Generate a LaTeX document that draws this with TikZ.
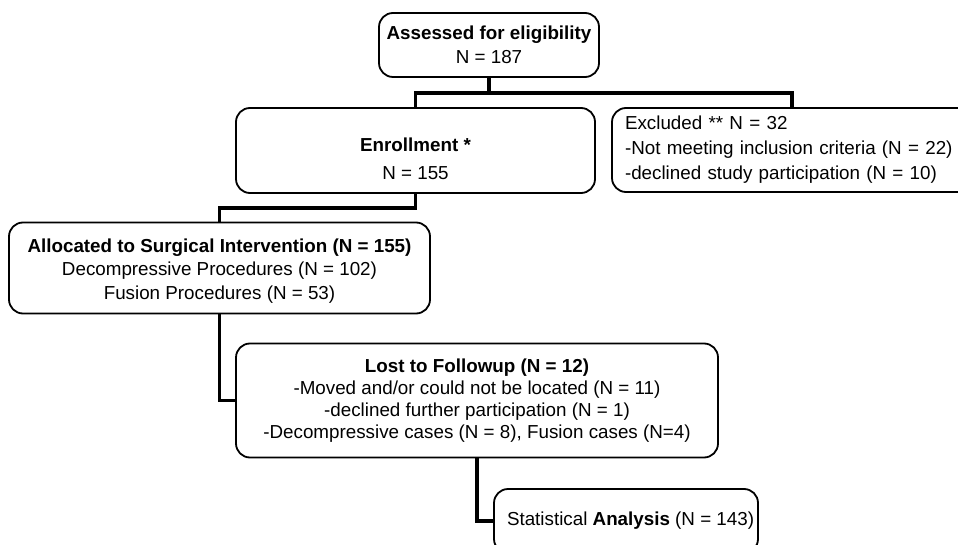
\documentclass[tikz,border=0pt]{standalone}
\usepackage{fontspec}
\setmainfont{Liberation Sans}
\begin{document}
\begin{tikzpicture}[x=1pt,y=-1pt,
  box/.style={draw, line width=1.8pt, rounded corners=14pt, fill=white, align=center, inner sep=0pt, font=\fontsize{18.8}{23.5}\selectfont},
  leftbox/.style={box, align=left, inner xsep=13pt},
  conn/.style={line width=3.8pt}]
\useasboundingbox (0,0) rectangle (958,545);
\clip (0,0) rectangle (958,545);
\fill[white] (0,0) rectangle (958,545);
\node[box, minimum width=220pt, minimum height=64pt] (assess) at (489,45) {\textbf{Assessed for eligibility}\\N = 187};
\node[box, minimum width=359pt, minimum height=85pt] (enroll) at (415.5,150.5) {\rule{0pt}{30pt}\textbf{Enrollment *}\\[4pt]N = 155};
\node[leftbox, minimum width=360pt, text width=334pt, minimum height=84pt, font=\fontsize{18.8}{25}\selectfont] (excl) at (792,150) {Excluded ** N = 32\\-Not meeting inclusion criteria (N = 22)\\-declined study participation (N = 10)};
\node[box, minimum width=421pt, minimum height=91pt] (alloc) at (219.5,268) {\rule{0pt}{19pt}\textbf{Allocated to Surgical Intervention (N = 155)}\\Decompressive Procedures (N = 102)\\Fusion Procedures (N = 53)};
\node[box, minimum width=482pt, minimum height=114pt, font=\fontsize{18.8}{21.8}\selectfont] (lost) at (477,400.5) {\textbf{Lost to Followup (N = 12)}\\-Moved and/or could not be located (N = 11)\\-declined further participation (N = 1)\\-Decompressive cases (N = 8), Fusion cases (N=4)};
\node[box, minimum width=264pt, minimum height=64pt] (stats) at (626,521) {\makebox[238pt][l]{Statistical \textbf{Analysis} (N = 143)}};
\coordinate (j1) at (489,93);
\draw[conn] (assess.south) -- (j1);
\draw[conn] (enroll.north) |- (j1) -| (excl.north);
\draw[conn] (enroll.south) -- ++(0,14.5) -| (alloc.north);
\draw[conn] (alloc.south) |- (lost.west);
\draw[conn] (lost.south) |- (stats.west);
\end{tikzpicture}
\end{document}
